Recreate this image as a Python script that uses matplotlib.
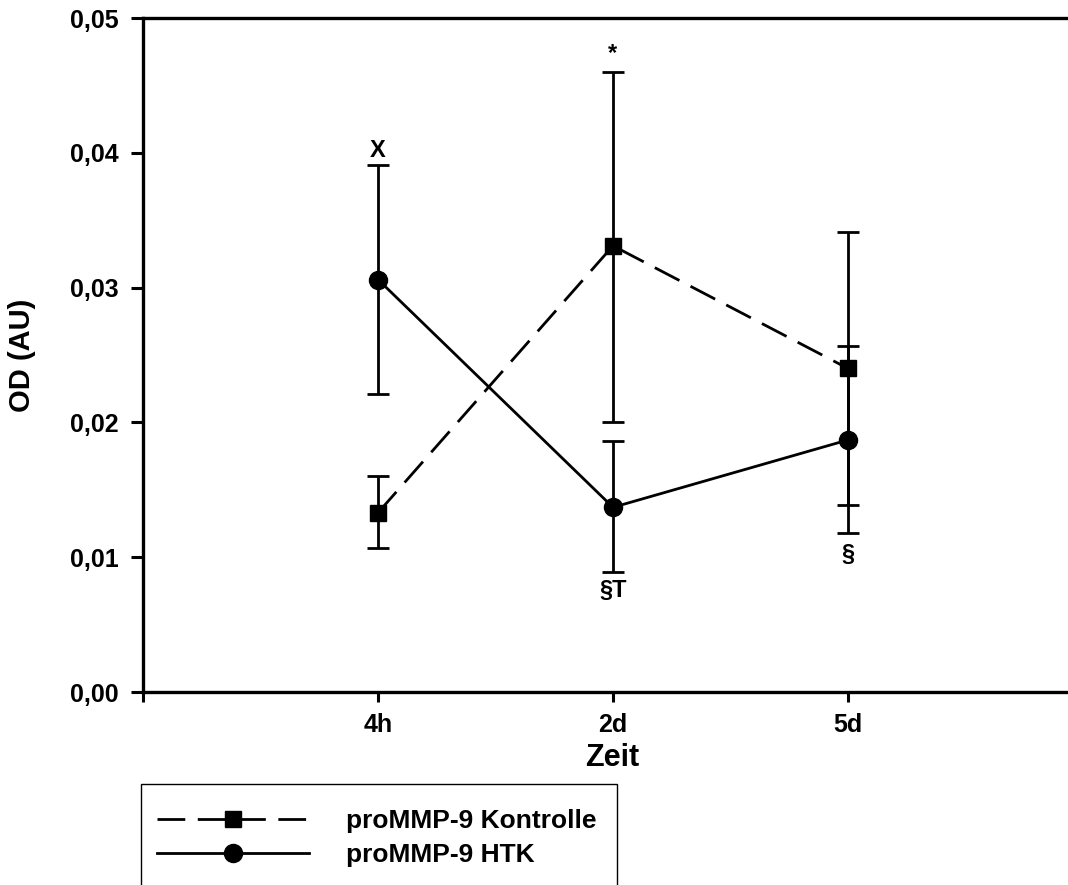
import numpy as np
import matplotlib
matplotlib.use("Agg")
import matplotlib.pyplot as plt
from matplotlib.patches import Rectangle

plt.rcParams['font.family'] = ['Liberation Sans', 'DejaVu Sans']
plt.rcParams['font.weight'] = 'bold'

# data
zeit = ["4h", "2d", "5d"]
x = np.arange(1, len(zeit) + 1)

kontrolle = np.array([0.0133, 0.0331, 0.0240])
kontrolle_oben = np.array([0.0160, 0.0460, 0.0257])
kontrolle_unten = np.array([0.0107, 0.0200, 0.0139])

htk = np.array([0.0306, 0.0137, 0.0187])
htk_oben = np.array([0.0391, 0.0186, 0.0341])
htk_unten = np.array([0.0221, 0.0089, 0.0118])

# significance marks: text, x index, y value
sig_text = ["X", "*", "\u00a7T", "\u00a7"]
sig_x = [1, 2, 2, 3]
sig_y = [0.0402, 0.0474, 0.0075, 0.0102]

W, H = 1068, 885
fig = plt.figure(figsize=(W / 100, H / 100), dpi=100)
ax = fig.add_axes([143 / W, 1 - 692 / H, 940 / W, 674 / H])

lw = 2
# Kontrolle, dashed with squares
ax.errorbar(x, kontrolle, yerr=[kontrolle - kontrolle_unten, kontrolle_oben - kontrolle],
            fmt='none', ecolor='black', elinewidth=lw, capsize=8, capthick=lw, zorder=2)
l1, = ax.plot(x, kontrolle, color='black', lw=lw, linestyle=(0, (10, 4.5)),
              marker='s', markersize=11, markerfacecolor='black', markeredgecolor='black',
              zorder=3, label='proMMP-9 Kontrolle')
# HTK, solid with circles
ax.errorbar(x, htk, yerr=[htk - htk_unten, htk_oben - htk],
            fmt='none', ecolor='black', elinewidth=lw, capsize=8, capthick=lw, zorder=2)
l2, = ax.plot(x, htk, color='black', lw=lw, linestyle='-',
              marker='o', markersize=13, markerfacecolor='black', markeredgecolor='black',
              zorder=3, label='proMMP-9 HTK')

for t, xi, yi in zip(sig_text, sig_x, sig_y):
    ax.text(xi, yi, t, ha='center', va='center', fontsize=17, fontweight='bold')

ax.set_xlim(0, 4)
ax.set_ylim(0, 0.05)
ax.set_xticks([0, 1, 2, 3, 4])
ax.set_xticklabels([""] + zeit + [""])
yt = np.arange(0, 0.051, 0.01)
ax.set_yticks(yt)
ax.set_yticklabels([("%.2f" % v).replace(".", ",") for v in yt])

for s in ['left', 'bottom', 'top', 'right']:
    ax.spines[s].set_linewidth(2.4)
ax.tick_params(axis='both', direction='out', width=2.2, labelsize=18, colors='black')
ax.tick_params(axis='y', length=8.5, pad=9)
ax.tick_params(axis='x', length=7, pad=8)

fig.text(22 / W, 1 - 355 / H, "OD (AU)", rotation=90, ha='center', va='center',
         fontsize=21, fontweight='bold')
fig.text(612 / W, 1 - 758 / H, "Zeit", ha='center', va='center',
         fontsize=22, fontweight='bold')

# legend box runs off the bottom of the picture
fig.patches.append(Rectangle((141 / W, -0.05), 476 / W, 1 - 784 / H + 0.05,
                             transform=fig.transFigure, fill=False,
                             edgecolor='black', lw=1, clip_on=False))
fig.legend(handles=[l1, l2], loc='upper left', bbox_to_anchor=(144 / W, 1 - 796 / H),
           frameon=False, fontsize=19, handlelength=5.75, handletextpad=1.4,
           labelspacing=0.37, borderpad=0, numpoints=1)

plt.savefig("out.png", dpi=100)
plt.close()
